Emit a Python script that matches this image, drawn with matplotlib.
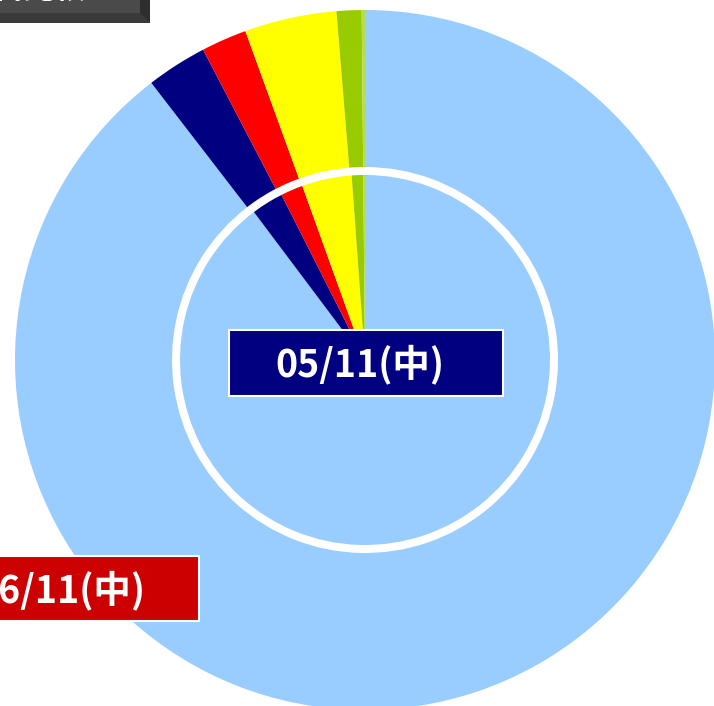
"""Two-ring share chart: outer ring 06/11, inner pie 05/11."""
import matplotlib
matplotlib.use("Agg")
import matplotlib.pyplot as plt
from matplotlib.patches import Rectangle, Polygon

plt.rcParams["font.family"] = ["Noto Sans CJK JP", "DejaVu Sans"]

# shares (percent), clockwise from 12 o'clock
categories = ["A", "B", "C", "D", "E", "F"]
outer_share = [89.5, 2.8, 2.1, 4.25, 1.15, 0.15]   # 06/11
inner_share = [89.75, 2.8, 1.95, 4.35, 1.0, 0.15]  # 05/11
colors = ["#99CCFF", "#000080", "#FF0000", "#FFFF00", "#99CC00", "#B8DC50"]

outer_label = "06/11(中)"
inner_label = "05/11(中)"
corner_label = "前日比較"

W, H = 714, 706
fig = plt.figure(figsize=(W / 100, H / 100), dpi=100)
ax = fig.add_axes([0, 0, 1, 1])

cx, cy = 365, H - 360
ax.pie(outer_share, colors=colors, startangle=90, counterclock=False,
       radius=350, center=(cx, cy), frame=True,
       wedgeprops=dict(width=157, linewidth=0))
ax.pie(inner_share, colors=colors, startangle=90, counterclock=False,
       radius=185, center=(cx, cy), frame=True,
       wedgeprops=dict(linewidth=0))
ax.set_xlim(0, W)
ax.set_ylim(0, H)
ax.set_aspect("equal")
ax.axis("off")

lbl = dict(color="white", fontsize=27, fontweight="bold",
           ha="center", va="center", zorder=6)

# inner date label
ax.add_patch(Rectangle((229, H - 396), 274, 66, facecolor="#000080",
                       edgecolor="white", lw=1.5, zorder=5))
ax.text(360, H - 364, inner_label, **lbl)

# outer date label (runs off the left edge)
ax.add_patch(Rectangle((-75, H - 621), 274, 65, facecolor="#CC0000",
                       edgecolor="white", lw=1.5, zorder=5))
ax.text(61, H - 590, outer_label, **lbl)

# corner title box, mostly cut off at the top
ax.add_patch(Rectangle((-10, H - 23), 160, 40, facecolor="#4A4A4A",
                       edgecolor="none", zorder=5))
ax.add_patch(Polygon([(-10, H - 23), (150, H - 23), (140, H - 13), (-10, H - 13)],
                     facecolor="#3A3A3A", edgecolor="none", zorder=5))
ax.add_patch(Polygon([(140, H - 13), (150, H - 23), (150, H + 5), (140, H + 5)],
                     facecolor="#2E2E2E", edgecolor="none", zorder=5))
ax.text(86, H + 1, corner_label, color="white", fontsize=22, fontweight="bold",
        ha="right", va="baseline", zorder=6)

fig.savefig("out.png", dpi=100)
